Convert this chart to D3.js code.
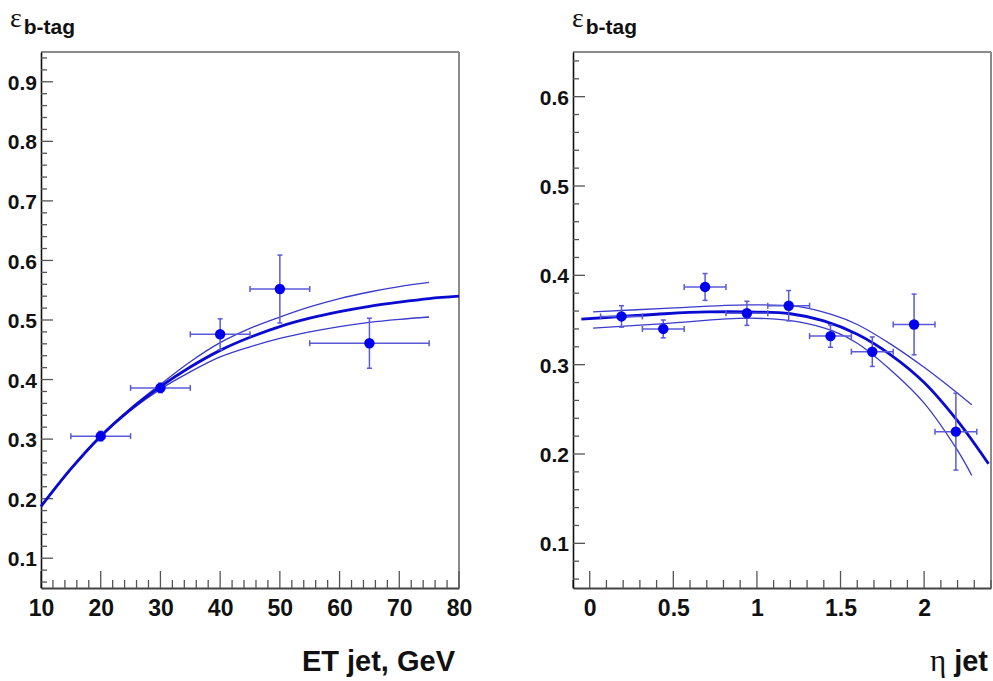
<!DOCTYPE html>
<html><head><meta charset="utf-8">
<script src="https://cdn.jsdelivr.net/npm/d3@7"></script>
<style>
html,body{margin:0;padding:0;background:#fff;}
svg{display:block;}
</style></head>
<body>
<svg id="chart" width="993" height="681"></svg>
<script>
// ---------- data: left panel (ET jet) ----------
const etX     = [20, 30, 40, 50, 65];
const etY     = [0.305, 0.386, 0.476, 0.552, 0.461];
const etXErr  = [5, 5, 5, 5, 10];
const etYErr  = [0.008, 0.008, 0.026, 0.057, 0.042];
const etFitX  = [10, 15, 20, 25, 30, 35, 40, 45, 50, 55, 60, 65, 70, 75, 80];
const etFitY  = [0.187, 0.250, 0.305, 0.350, 0.388, 0.421, 0.449, 0.471, 0.489, 0.503, 0.514, 0.523, 0.530, 0.536, 0.540];
const etBandX = [10, 15, 20, 25, 30, 35, 40, 45, 50, 55, 60, 65, 70, 75];
const etUpY   = [0.188, 0.251, 0.306, 0.352, 0.392, 0.430, 0.462, 0.486, 0.505, 0.522, 0.536, 0.547, 0.556, 0.563];
const etLoY   = [0.186, 0.249, 0.304, 0.348, 0.384, 0.413, 0.438, 0.455, 0.469, 0.480, 0.489, 0.496, 0.501, 0.505];
const etXTicks = [10, 20, 30, 40, 50, 60, 70, 80];
const etYTicks = [0.1, 0.2, 0.3, 0.4, 0.5, 0.6, 0.7, 0.8, 0.9];

// ---------- data: right panel (eta jet) ----------
const etaX    = [0.19, 0.44, 0.69, 0.94, 1.19, 1.44, 1.69, 1.94, 2.19];
const etaY    = [0.354, 0.340, 0.387, 0.3575, 0.366, 0.332, 0.3145, 0.345, 0.225];
const etaXErr = [0.125, 0.125, 0.125, 0.125, 0.125, 0.125, 0.125, 0.125, 0.125];
const etaYErr = [0.012, 0.010, 0.015, 0.0135, 0.017, 0.0125, 0.0165, 0.034, 0.043];
const etaFitX = [-0.05, 0.2, 0.45, 0.7, 0.95, 1.2, 1.4, 1.6, 1.8, 2.0, 2.2, 2.385];
const etaFitY = [0.351, 0.354, 0.357, 0.359, 0.359, 0.357, 0.349, 0.334, 0.311, 0.280, 0.237, 0.189];
const etaBandX = [0.02, 0.45, 0.95, 1.25, 1.45, 1.6, 1.8, 2.0, 2.2, 2.285];
const etaUpY  = [0.359, 0.363, 0.367, 0.365, 0.356, 0.345, 0.323, 0.297, 0.268, 0.255];
const etaLoY  = [0.341, 0.346, 0.352, 0.348, 0.338, 0.324, 0.294, 0.257, 0.204, 0.176];
const etaXTicks = [0, 0.5, 1, 1.5, 2];
const etaXTickLabels = ["0", "0.5", "1", "1.5", "2"];
const etaYTicks = [0.1, 0.2, 0.3, 0.4, 0.5, 0.6];

const svg = d3.select("#chart");
const TICKFONT = "'Liberation Sans','Arial',sans-serif";

function panel(cfg) {
  const x = d3.scaleLinear().domain(cfg.xDomain).range([cfg.left, cfg.right]);
  const y = d3.scaleLinear().domain(cfg.yDomain).range([cfg.bottom, cfg.top]);
  const g = svg.append("g");

  // frame top/right (gray)
  g.append("line").attr("x1", cfg.left).attr("x2", cfg.right).attr("y1", cfg.top).attr("y2", cfg.top)
    .attr("stroke", "#8a8a8a").attr("stroke-width", 2);
  g.append("line").attr("x1", cfg.right).attr("x2", cfg.right).attr("y1", cfg.top).attr("y2", cfg.bottom)
    .attr("stroke", "#8a8a8a").attr("stroke-width", 2);

  // minor ticks
  const xMinor = d3.range(cfg.xDomain[0], cfg.xDomain[1] + 1e-9, cfg.xMinorStep);
  const yMinor = d3.range(Math.ceil(cfg.yDomain[0] / 0.02) * 0.02, cfg.yDomain[1] + 1e-9, 0.02);

  const xAxis = d3.axisBottom(x).tickValues(cfg.xTicks).tickSize(0).tickPadding(0)
      .tickFormat((d, i) => cfg.xTickLabels ? cfg.xTickLabels[i] : d3.format("d")(d));
  const xa = g.append("g").attr("transform", `translate(0,${cfg.bottom})`).call(xAxis);
  xa.select(".domain").attr("stroke", "#444").attr("stroke-width", 2);
  xa.selectAll("text").attr("font-family", TICKFONT).attr("font-weight", "bold")
    .attr("font-size", 23).attr("fill", "#111").attr("dy", 0).attr("y", 28);

  g.append("g").selectAll("line").data(xMinor).join("line")
    .attr("x1", d => x(d)).attr("x2", d => x(d))
    .attr("y1", cfg.bottom).attr("y2", d => {
      const isMajor = cfg.xTicks.some(t => Math.abs(t - d) < 1e-6);
      return cfg.bottom - (isMajor ? 17 : 8);
    })
    .attr("stroke", "#555").attr("stroke-width", 1.3);

  const yAxis = d3.axisLeft(y).tickValues(cfg.yTicks).tickSize(0).tickPadding(4)
      .tickFormat(d3.format(".1f"));
  const ya = g.append("g").attr("transform", `translate(${cfg.left},0)`).call(yAxis);
  ya.select(".domain").attr("stroke", "#111").attr("stroke-width", 1.6);
  ya.selectAll("text").attr("font-family", TICKFONT).attr("font-weight", "bold")
    .attr("font-size", 21).attr("fill", "#111").attr("dy", "0.36em");

  g.append("g").selectAll("line").data(yMinor).join("line")
    .attr("y1", d => y(d)).attr("y2", d => y(d))
    .attr("x1", cfg.left).attr("x2", d => {
      const isMajor = cfg.yTicks.some(t => Math.abs(t - d) < 1e-6);
      return cfg.left + (isMajor ? 12 : 6);
    })
    .attr("stroke", "#555").attr("stroke-width", 1.3);

  // band curves
  const band = d3.line().curve(d3.curveCatmullRom).x(d => x(d[0])).y(d => y(d[1]));
  [cfg.upY, cfg.loY].forEach(arr => {
    g.append("path").datum(cfg.bandX.map((v, i) => [v, arr[i]]))
      .attr("d", band).attr("fill", "none").attr("stroke", "#3a3acc").attr("stroke-width", 1.3);
  });
  // central fit
  g.append("path").datum(cfg.fitX.map((v, i) => [v, cfg.fitY[i]]))
    .attr("d", band).attr("fill", "none").attr("stroke", "#0a0ad0").attr("stroke-width", 2.8);

  // error bars
  const pts = cfg.px.map((v, i) => ({x: v, y: cfg.py[i], ex: cfg.pxErr[i], ey: cfg.pyErr[i]}));
  const eb = g.append("g").attr("stroke", "#5a5ad8").attr("stroke-width", 1.5);
  pts.forEach(p => {
    eb.append("line").attr("x1", x(p.x - p.ex)).attr("x2", x(p.x + p.ex)).attr("y1", y(p.y)).attr("y2", y(p.y));
    eb.append("line").attr("x1", x(p.x)).attr("x2", x(p.x)).attr("y1", y(p.y - p.ey)).attr("y2", y(p.y + p.ey));
    [p.x - p.ex, p.x + p.ex].forEach(xx => eb.append("line")
      .attr("x1", x(xx)).attr("x2", x(xx)).attr("y1", y(p.y) - 3).attr("y2", y(p.y) + 3));
    [p.y - p.ey, p.y + p.ey].forEach(yy => eb.append("line")
      .attr("x1", x(p.x) - 2.5).attr("x2", x(p.x) + 2.5).attr("y1", y(yy)).attr("y2", y(yy)));
  });
  g.append("g").selectAll("circle").data(pts).join("circle")
    .attr("cx", d => x(d.x)).attr("cy", d => y(d.y)).attr("r", 5.2).attr("fill", "#0000ee");

  // y title epsilon_b-tag
  const t = g.append("text").attr("x", cfg.titleX).attr("y", 27).attr("fill", "#111");
  t.append("tspan").attr("font-family", "'Liberation Serif','DejaVu Serif',serif").attr("font-size", 28).text("ε");
  t.append("tspan").attr("font-family", TICKFONT).attr("font-weight", "bold").attr("font-size", 21)
    .attr("dx", 2).attr("dy", 7).text("b-tag");

  return {x, y, g};
}

const L = panel({
  left: 41, right: 459, top: 52, bottom: 588,
  xDomain: [10, 80], yDomain: [0.05, 0.95], xMinorStep: 2,
  xTicks: etXTicks, yTicks: etYTicks,
  px: etX, py: etY, pxErr: etXErr, pyErr: etYErr,
  fitX: etFitX, fitY: etFitY, bandX: etBandX, upY: etUpY, loY: etLoY,
  titleX: 10
});
L.g.append("text").attr("x", 455).attr("y", 671).attr("text-anchor", "end")
  .attr("font-family", TICKFONT).attr("font-weight", "bold").attr("font-size", 29)
  .attr("fill", "#111").text("ET jet, GeV");

const R = panel({
  left: 573, right: 991, top: 52, bottom: 588,
  xDomain: [-0.1, 2.4], yDomain: [0.05, 0.65], xMinorStep: 0.1,
  xTicks: etaXTicks, xTickLabels: etaXTickLabels, yTicks: etaYTicks,
  px: etaX, py: etaY, pxErr: etaXErr, pyErr: etaYErr,
  fitX: etaFitX, fitY: etaFitY, bandX: etaBandX, upY: etaUpY, loY: etaLoY,
  titleX: 572
});
const rt = R.g.append("text").attr("x", 988).attr("y", 671).attr("text-anchor", "end").attr("fill", "#111");
rt.append("tspan").attr("font-family", "'Liberation Serif','DejaVu Serif',serif").attr("font-size", 31).text("η");
rt.append("tspan").attr("font-family", TICKFONT).attr("font-weight", "bold").attr("font-size", 29).attr("dx", 8).text("jet");
</script>
</body></html>
